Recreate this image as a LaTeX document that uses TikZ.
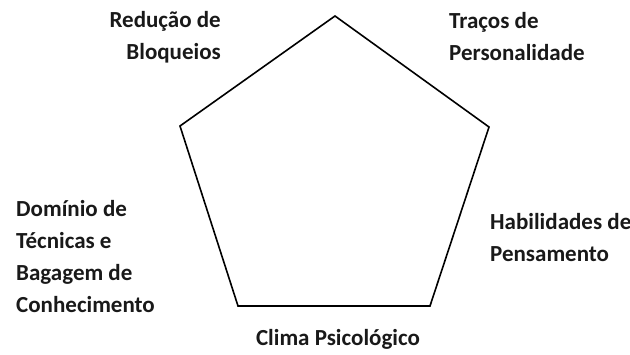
\documentclass[tikz,border=0pt]{standalone}
\usepackage{fontspec}
\setmainfont{Carlito}
\begin{document}
\begin{tikzpicture}[x=1pt,y=-1pt,
  lbl/.style={inner sep=0pt,font=\bfseries\fontsize{23}{32}\selectfont,text=black!90},
  edge/.style={line width=1.6pt,line join=miter}]
\useasboundingbox (0,0) rectangle (630,354);
\coordinate (T) at (335,16);
\coordinate (R) at (489,127);
\coordinate (BR) at (430,306);
\coordinate (BL) at (238,306);
\coordinate (L) at (180,126);
\draw[edge] (T) -- (R) -- (BR) -- (BL) -- (L) -- cycle;
\node[lbl,anchor=base east,align=right] (red) at (221,59) {Redução de\\Bloqueios};
\node[lbl,anchor=base west,align=left] (tra) at (449,60) {Traços de\\Personalidade};
\node[lbl,anchor=base west,align=left] (dom) at (16,312) {Domínio de\\Técnicas e\\Bagagem de\\Conhecimento};
\node[lbl,anchor=base west,align=left] (hab) at (490,261) {Habilidades de\\Pensamento};
\node[lbl,anchor=base] (cli) at (338,345) {Clima Psicológico};
\end{tikzpicture}
\end{document}
